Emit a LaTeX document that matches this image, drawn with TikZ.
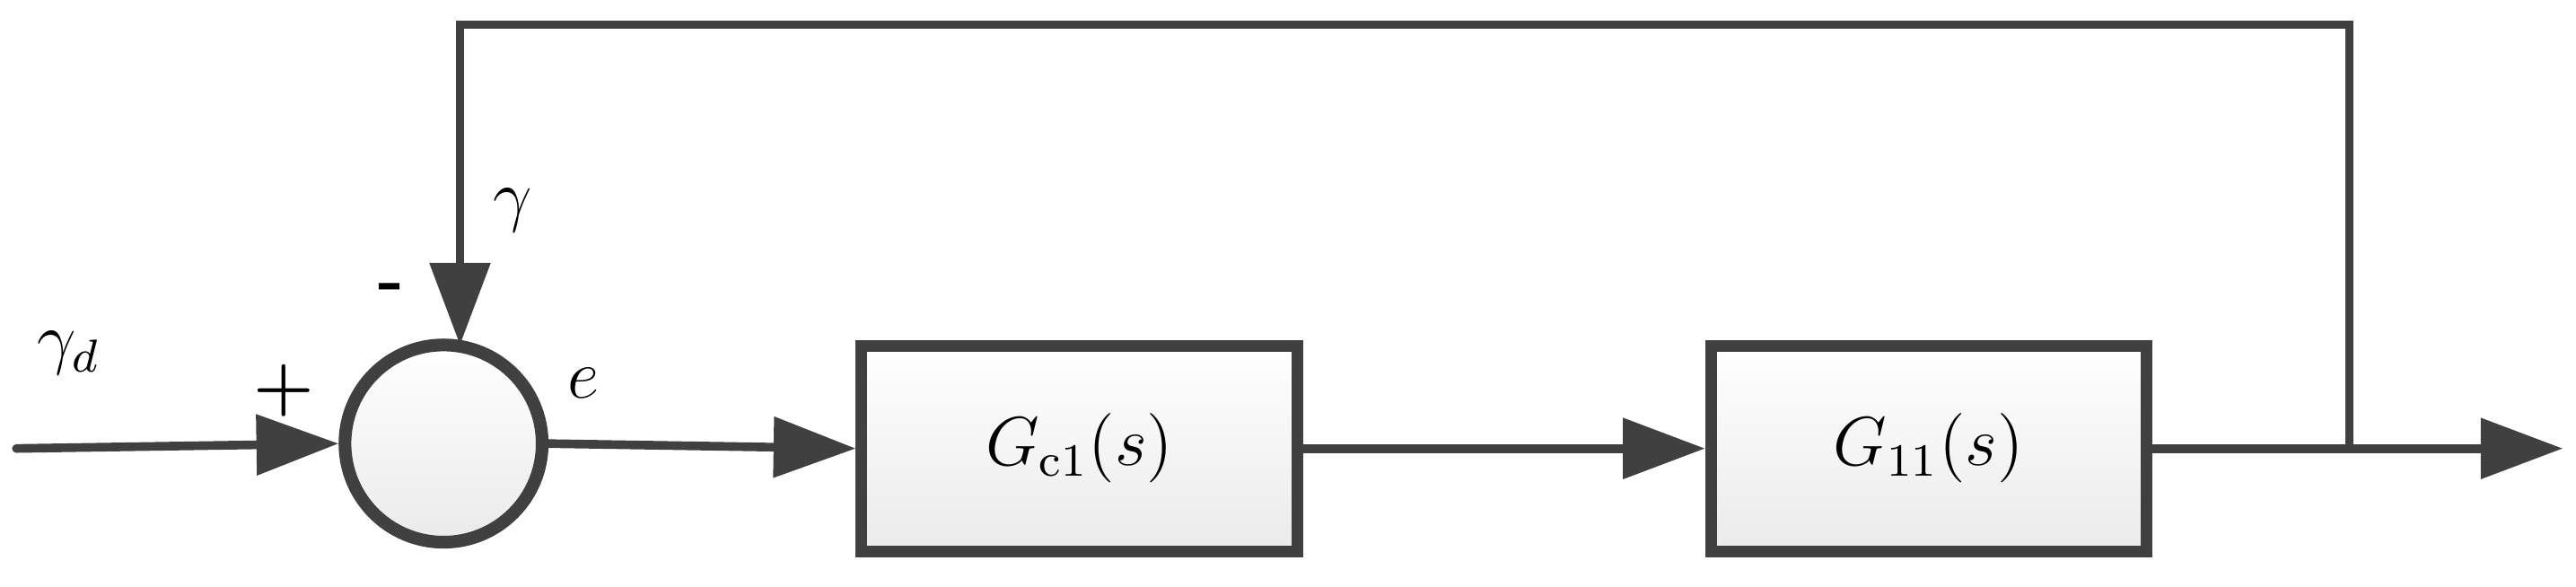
\documentclass[tikz,border=0pt]{standalone}
\usetikzlibrary{positioning,arrows.meta}
\begin{document}
\begin{tikzpicture}[x=0.01cm,y=0.01cm,line width=1.5pt,draw=black!75,
    blk/.style={draw=black!75,line width=2pt,top color=white,bottom color=black!8,minimum width=2.65cm,minimum height=1.25cm,font=\large},
    sumnode/.style={circle,draw=black!75,line width=2.2pt,top color=white,bottom color=black!8,minimum size=1.2cm},
    sig/.style={-{Triangle[length=0.5cm,width=0.36cm]},draw=black!75,line width=1.5pt},
    lbl/.style={font=\large}]
  \useasboundingbox (0,0) rectangle (1568,357);
  \node[sumnode] (sum) at (270,87) {};
  \node[blk] (gc) at (657,84) {$G_{\mathrm{c}1}(s)$};
  \node[blk] (g11) at (1174,84) {$G_{11}(s)$};
  \coordinate (in) at (10,84);
  \coordinate (out) at (1560,84);
  \coordinate (tap) at (1430,84);
  \coordinate (tr) at (1430,342);
  \coordinate (tl) at (280,342);
  \draw[sig, line cap=round] (in) -- (sum.west);
  \draw[sig] (sum.east) -- (gc.west);
  \draw[sig] (gc.east) -- (g11.west);
  \draw[sig] (g11.east) -- (out);
  \draw[sig] (tap) -- (tr) -- (tl) -- (280,147);
  % labels
  \node[lbl] (yd) at (42,142) {$\gamma_d$};
  \node[lbl] (plus) at (173,119) {\textbf{+}};
  \node[lbl] (minus) at (238,179) {\textbf{-}};
  \node[lbl] (y) at (312,229) {$\gamma$};
  \node[lbl] (e) at (355,124) {$e$};
\end{tikzpicture}
\end{document}
